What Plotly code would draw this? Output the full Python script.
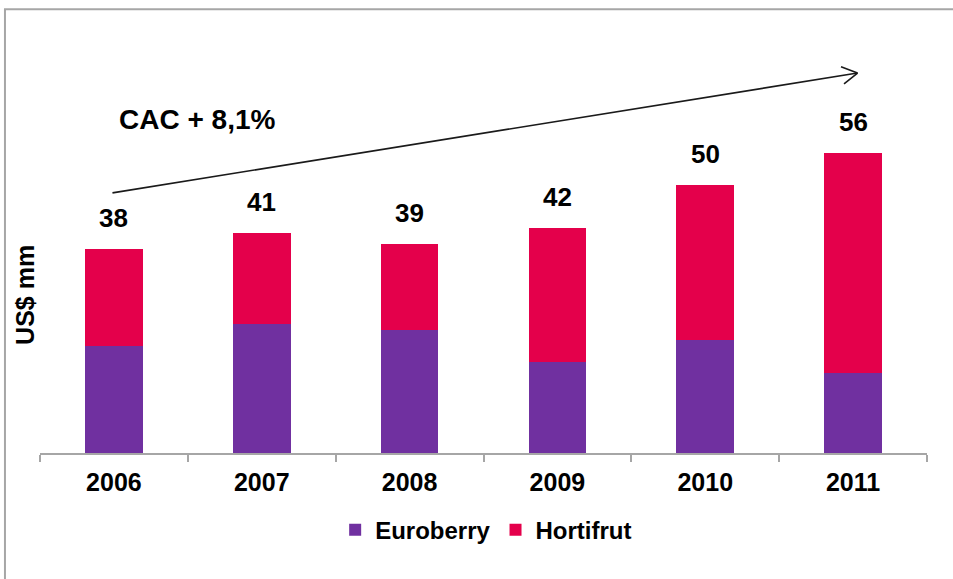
import plotly.graph_objects as go

# Annual sales, US$ millions
years = ["2006", "2007", "2008", "2009", "2010", "2011"]
euroberry = [20, 24, 23, 17, 21, 15]
hortifrut = [18, 17, 16, 25, 29, 41]
totals = [38, 41, 39, 42, 50, 56]

PURPLE = "#7030A0"
RED = "#E4004B"
FONT = "Liberation Sans, Arial, sans-serif"

fig = go.Figure()
fig.add_trace(go.Bar(x=years, y=euroberry, name="Euroberry",
                     marker=dict(color=PURPLE, line=dict(width=0))))
fig.add_trace(go.Bar(x=years, y=hortifrut, name="Hortifrut",
                     marker=dict(color=RED, line=dict(width=0))))

# Total labels above each stacked bar
for i, tot in enumerate(totals):
    fig.add_annotation(x=i, y=tot, xref="x", yref="y",
                       text=f"<b>{tot}</b>", showarrow=False,
                       xanchor="center", yanchor="bottom", yshift=14,
                       font=dict(family=FONT, size=26, color="#000000"))

# Growth arrow with CAGR note
TIP_X, TIP_Y = 5.03, 70.9
fig.add_annotation(x=TIP_X, y=TIP_Y, ax=-0.02, ay=48.5,
                   xref="x", yref="y", axref="x", ayref="y",
                   showarrow=True, arrowhead=0, arrowwidth=1.6,
                   arrowcolor="#1a1a1a", text="")
for dx, dy in [(-18, -7), (-15, 12)]:
    fig.add_annotation(x=TIP_X, y=TIP_Y, ax=dx, ay=dy, xref="x", yref="y",
                       showarrow=True, arrowhead=0, arrowwidth=1.6,
                       arrowcolor="#1a1a1a", text="")
fig.add_annotation(x=0.56, y=62.3, xref="x", yref="y",
                   text="<b>CAC + 8,1%</b>", showarrow=False,
                   xanchor="center", yanchor="middle",
                   font=dict(family=FONT, size=28, color="#000000"))

# Vertical axis title
fig.add_annotation(x=-0.017, y=0.365, xref="paper", yref="paper",
                   text="<b>US$ mm</b>", textangle=-90, showarrow=False,
                   xanchor="center", yanchor="middle",
                   font=dict(family=FONT, size=25, color="#000000"))

# Outer frame
fig.add_shape(type="rect", xref="paper", yref="paper",
              x0=-0.0395, x1=1.05, y0=-0.4, y1=1.025,
              line=dict(color="#a6a6a6", width=2), fillcolor="rgba(0,0,0,0)")

fig.update_layout(
    width=953, height=579,
    margin=dict(l=40, r=26, t=20, b=126),
    barmode="stack", bargap=0.61,
    paper_bgcolor="white", plot_bgcolor="white",
    font=dict(family=FONT, color="#000000"),
    showlegend=True,
    legend=dict(orientation="h", traceorder="normal",
                x=0.503, xanchor="center", y=-0.178, yanchor="middle",
                font=dict(family=FONT, size=24, color="#000000", weight="bold"),
                itemwidth=30),
    xaxis=dict(type="category", range=[-0.5, 5.5], showline=True,
               linecolor="#a6a6a6", linewidth=1.5, ticks="outside",
               tickson="boundaries", ticklen=7, tickcolor="#a6a6a6",
               tickwidth=1.5, showgrid=False, ticklabelstandoff=6,
               tickfont=dict(family=FONT, size=25, color="#000000",
                             weight="bold")),
    yaxis=dict(range=[0, 80.8], visible=False, showgrid=False,
               zeroline=False),
)

fig.write_html("out.html")
